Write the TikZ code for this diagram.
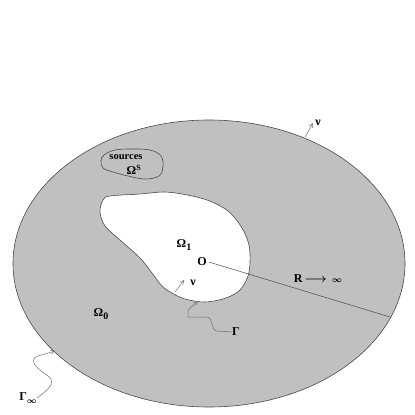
\documentclass[tikz,border=0pt]{standalone}
\usepackage{fontspec}
\setmainfont{Liberation Serif}
\usepackage{amsmath}
\usetikzlibrary{arrows.meta}
\definecolor{regiongray}{HTML}{C0C0C0}
\definecolor{edgegray}{HTML}{4A4A4A}
\definecolor{arrowgray}{HTML}{707070}
\tikzset{
  lbl/.style={font=\bfseries\fontsize{12}{13}\selectfont, inner sep=0pt},
  smalllbl/.style={font=\bfseries\fontsize{10.5}{11}\selectfont, inner sep=0pt},
  pointer/.style={draw=arrowgray, line width=0.5pt, -{Straight Barb[length=4pt,width=4pt]}},
  outline/.style={draw=edgegray, line width=0.6pt}
}
\begin{document}
\begin{tikzpicture}[x=1pt,y=-1pt]
\useasboundingbox (0,0) rectangle (415,415);
\fill[white] (0,0) rectangle (415,415);
% outer domain
\path[outline, fill=regiongray] (209,263.5) ellipse [x radius=196pt, y radius=143.5pt];
% sources
\path[outline] plot[smooth cycle, tension=0.6] coordinates {
 (104,155) (115,150) (132,149) (150,150) (161,156) (163,167) (159,176) (145,179) (128,176) (113,172) (103,168) (101,161)};
% inner obstacle
\path[outline, fill=white] plot[smooth cycle, tension=0.55] coordinates {
 (110,196) (140,194) (163,192) (182,194) (207,200) (228,211) (242,228) (249,245) (250,262) (248,276) (240,290) (226,298) (205,302) (185,299) (172,293) (162,286) (152,273) (140,258) (120,240) (105,226) (100,212) (103,200)};
% labels
\node[smalllbl] (src) at (126,157) {sources};
\node[lbl] (omS) at (134,170) {Ω\textsuperscript{S}};
\node[lbl] (om1) at (184,245) {Ω\raisebox{-0.45ex}{\fontsize{10}{10}\selectfont 1}};
\node[lbl] (O) at (202,262) {O};
\node[lbl] (nu1) at (193,283) {ν};
\node[lbl] (nu2) at (318,123) {ν};
\node[lbl] (Gam) at (236,332) {Γ};
\node[lbl] (Ginf) at (28,398) {Γ\raisebox{-0.6ex}{$\boldsymbol{\scriptstyle\infty}$}};
\node[lbl] (om0) at (101,314) {Ω\raisebox{-0.45ex}{\fontsize{10}{10}\selectfont 0}};
\node[lbl] (Rinf) at (318,279) {R\,$\boldsymbol{\longrightarrow}\,\boldsymbol{\scriptstyle\infty}$};
% radius line
\coordinate (Rend) at (390,317);
\draw[edgegray, line width=0.5pt] (O.east) ++(2pt,0) -- (Rend);
% normals
\coordinate (n1s) at (175,292);
\coordinate (n1e) at (184,280);
\draw[pointer] (n1s) -- (n1e);
\coordinate (n2s) at (305,137);
\coordinate (n2e) at (313,123);
\draw[pointer] (n2s) -- (n2e);
% Gamma pointer
\coordinate (gtip) at (198,301);
\draw[pointer] (Gam.west) -- (217,331) .. controls (211,331) and (213,317) .. (207,317) -- (188,317) -- (188,310) -- (gtip);
% Gamma infinity pointer
\coordinate (ginftip) at (55,351);
\draw[pointer] (Ginf.east) .. controls (45,392) and (58,383) .. (48,376) .. controls (36,368) and (28,360) .. (38,356) -- (ginftip);
\end{tikzpicture}
\end{document}
